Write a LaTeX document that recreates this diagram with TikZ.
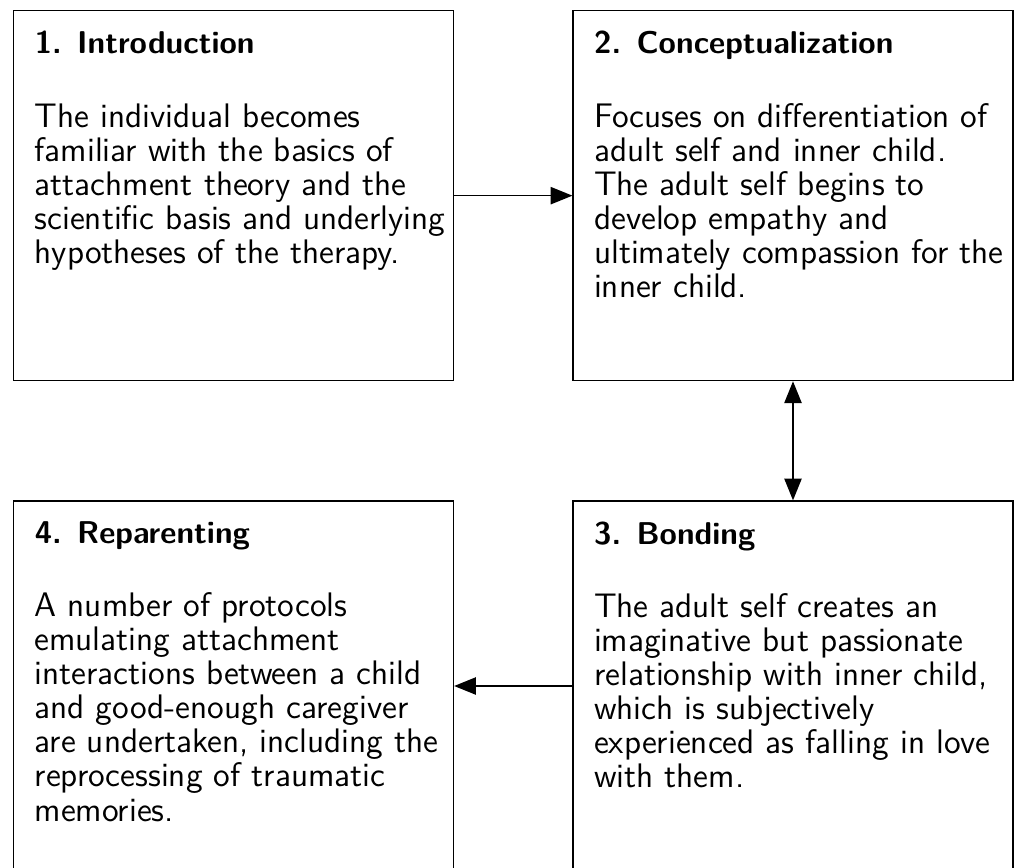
\documentclass[tikz,border=0pt]{standalone}
\usepackage{xcolor}
\usetikzlibrary{arrows.meta,positioning}
\definecolor{ink}{HTML}{000000}

\newcommand{\stagetext}[2]{%
    \parbox[t][4.14cm][t]{5.34cm}{\hfuzz=20pt\raggedright\leftskip=0.165cm
        {\fontsize{11.3}{12.2}\selectfont\textbf{#1}}\par\vspace{14.05pt}#2}}

\begin{document}
\begin{tikzpicture}[
    font=\sffamily\fontsize{12.2}{12.2}\selectfont,
    stage/.style={
        draw=ink,
        line width=0.5pt,
        inner xsep=0.10cm,
        inner ysep=0.26cm,
        text=ink
    },
    arrow/.style={-{Triangle[length=7.8pt, width=6.2pt]}, draw=ink, line width=0.5pt},
    twoway/.style={{Triangle[length=7.8pt, width=6.2pt]}-{Triangle[length=7.8pt, width=6.2pt]}, draw=ink, line width=0.5pt}
]

% Frame of the figure (bottom edge of lower boxes is cut off).
\path[use as bounding box] (-0.164,0.126) rectangle ++(12.80,-10.923);

% Four therapy stages, clockwise.
\node[stage, anchor=north west] (intro) at (0,0) {\stagetext{1. Introduction}{%
    The individual becomes\\
    familiar with the basics of\\
    attachment theory and the\\
    scientific basis and underlying\\
    hypotheses of the therapy.}};
\node[stage, right=1.49cm of intro] (concept) {\stagetext{2. Conceptualization}{%
    Focuses on differentiation of\\
    adult self and inner child.\\
    The adult self begins to\\
    develop empathy and\\
    ultimately compassion for the\\
    inner child.}};
\node[stage, below=1.50cm of concept] (bond) {\stagetext{3. Bonding}{%
    The adult self creates an\\
    imaginative but passionate\\
    relationship with inner child,\\
    which is subjectively\\
    experienced as falling in love\\
    with them.}};
\node[stage, left=1.49cm of bond] (reparent) {\stagetext{4. Reparenting}{%
    A number of protocols\\
    emulating attachment\\
    interactions between a child\\
    and good-enough caregiver\\
    are undertaken, including the\\
    reprocessing of traumatic\\
    memories.}};

\draw[arrow] (intro) -- (concept);
\draw[twoway] (concept) -- (bond);
\draw[arrow] (bond) -- (reparent);

\end{tikzpicture}
\end{document}
